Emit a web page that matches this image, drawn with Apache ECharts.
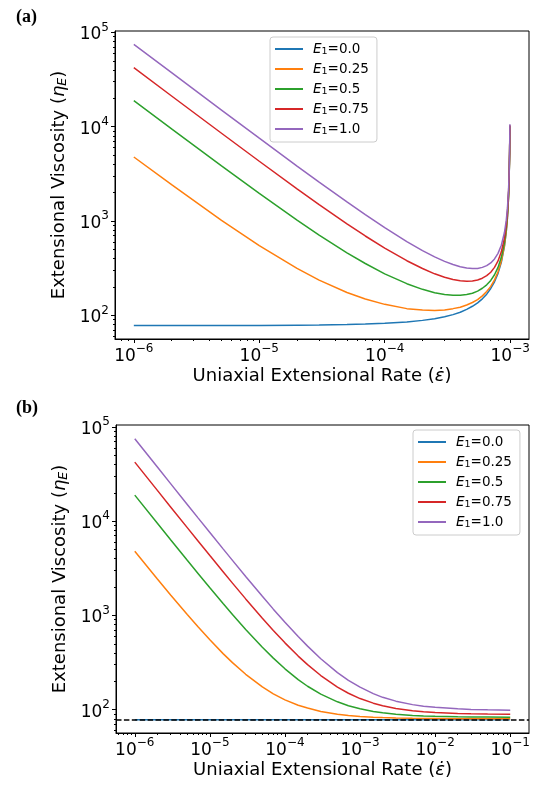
<!DOCTYPE html>
<html>
<head>
<meta charset="utf-8">
<title>Extensional viscosity vs extensional rate</title>
<script src="https://cdn.jsdelivr.net/npm/echarts@6/dist/echarts.min.js"></script>
<style>
  html, body { margin: 0; padding: 0; background: #fff; }
  #chart { width: 543px; height: 790px; }
</style>
</head>
<body>
<div id="chart"></div>
<script>
var names = ['E1=0.0', 'E1=0.25', 'E1=0.5', 'E1=0.75', 'E1=1.0'];
var colors = ['#1f77b4', '#ff7f0e', '#2ca02c', '#d62728', '#9467bd'];

// (a) rates up to the blow-up near 1e-3
var rateA = [1e-6, 2e-6, 5e-6, 1e-5, 2e-5, 3e-5, 5e-5, 7e-5, 1e-4, 1.5e-4, 2e-4, 2.5e-4, 3e-4, 3.5e-4, 4e-4, 4.5e-4,
  5e-4, 5.5e-4, 6e-4, 6.5e-4, 7e-4, 7.5e-4, 8e-4, 8.5e-4, 9e-4, 9.3e-4, 9.5e-4, 9.7e-4, 9.8e-4, 9.9e-4, 9.95e-4];
var etaA00 = [78.0, 78.1, 78.2, 78.4, 78.8, 79.2, 80.1, 81.0, 82.5, 85.4, 88.6, 92.4, 96.9, 102, 108, 116,
  125, 136, 150, 168, 193, 227, 279, 365, 538, 761, 1058, 1751, 2617, 5217, 10000];
var etaA025 = [4779, 2429, 1019, 550, 315, 237, 175, 149, 131, 118, 114, 113, 114, 118, 122, 129,
  137, 147, 161, 179, 203, 238, 290, 377, 552, 776, 1076, 1774, 2645, 5256, 10100];
var etaA05 = [18880, 9483, 3843, 1963, 1024, 711, 461, 355, 276, 217, 189, 174, 167, 164, 164, 167,
  172, 181, 194, 211, 235, 270, 323, 413, 593, 824, 1131, 1843, 2729, 5373, 10250];
var etaA075 = [42290, 21190, 8529, 4309, 2200, 1497, 935, 695, 517, 380, 314, 276, 254, 240, 233, 230,
  232, 237, 248, 264, 287, 323, 378, 472, 661, 902, 1221, 1957, 2867, 5566, 10400];
var etaA10 = [74800, 37450, 15040, 7567, 3833, 2589, 1594, 1169, 851, 606, 487, 418, 374, 346, 328, 318,
  314, 315, 323, 337, 360, 397, 455, 555, 756, 1011, 1347, 2116, 3059, 5835, 10600];

// (b) wider rate range, curves level off
var rateB = [1e-6, 2e-6, 3e-6, 5e-6, 7e-6, 1e-5, 1.5e-5, 2e-5, 3e-5, 5e-5, 7e-5, 1e-4, 1.5e-4, 2e-4,
  3e-4, 5e-4, 7e-4, 1e-3, 1.5e-3, 2e-3, 3e-3, 5e-3, 7e-3, 1e-2, 2e-2, 3e-2, 5e-2, 1e-1];
var etaB00 = [78, 78, 78, 78, 78, 78, 78, 78, 78, 78, 78, 78, 78, 78,
  78, 78, 78, 78, 78, 78, 78, 78, 78, 78, 78, 78, 78, 78];
var etaB025 = [4780, 2430, 1647, 1020, 751, 550, 393, 315, 237, 174, 147, 127, 111.3, 104,
  95.7, 89.4, 86.7, 84.7, 83.1, 82.4, 81.6, 80.9, 80.7, 80.5, 80.2, 80.2, 80.1, 80.0];
var etaB05 = [18880, 9483, 6350, 3843, 2769, 1963, 1336, 1023, 710, 459, 352, 271, 208, 177,
  146, 121, 109.9, 102, 95.5, 92.4, 89.3, 86.8, 85.7, 84.9, 83.9, 83.6, 83.4, 83.2];
var etaB075 = [42290, 21190, 14156, 8529, 6118, 4309, 2902, 2199, 1496, 933, 692, 511, 370, 300,
  230, 173, 149.3, 131, 117.1, 110, 103, 97.4, 95.0, 93.2, 91.1, 90.4, 89.8, 89.4];
var etaB10 = [74800, 37450, 24998, 15040, 10769, 7568, 5078, 3833, 2588, 1592, 1165, 845, 596, 472,
  347, 247, 204.7, 173, 147.8, 135, 123, 113, 108.7, 106, 102, 100.5, 99.5, 98.7];
var newtonLevel = 78;

// tick labels
var ticksXA = [1e-6, 1e-5, 1e-4, 1e-3];
var ticksXB = [1e-6, 1e-5, 1e-4, 1e-3, 1e-2, 1e-1];
var ticksY = [1e2, 1e3, 1e4, 1e5];

var chart = echarts.init(document.getElementById('chart'), null, { renderer: 'canvas' });
var FONT = 'DejaVu Sans';

// minor log ticks 2..9 for each decade
function minorTicks(lo, hi) {
  var out = [];
  for (var e = lo; e < hi; e++) {
    for (var k = 2; k <= 9; k++) {
      out.push(Number((k * Math.pow(10, e)).toPrecision(3)));
    }
  }
  return out;
}

function powLabel(v) {
  var e = Math.round(Math.log10(v));
  var s = e < 0 ? '\u2212' + (-e) : '' + e;
  return '{b|10}{s|' + s + '}';
}

var tickRich = {
  b: { fontFamily: FONT, fontSize: 17, color: '#000', lineHeight: 22, verticalAlign: 'bottom' },
  s: { fontFamily: FONT, fontSize: 12, color: '#000', lineHeight: 22, verticalAlign: 'top' }
};

function pairs(xs, ys) {
  return xs.map(function (x, i) { return [x, ys[i]]; });
}

function xAxes(gridIndex, min, max, ticks, minors) {
  return [{
    type: 'log', gridIndex: gridIndex, position: 'bottom', min: min, max: max,
    name: '{t|Uniaxial Extensional Rate (}{e|\u03b5\u0307}{t|)}',
    nameLocation: 'middle', nameGap: 28,
    nameTextStyle: {
      rich: {
        t: { fontFamily: FONT, fontSize: 18, color: '#000' },
        e: { fontFamily: FONT, fontSize: 18, fontStyle: 'italic', color: '#000' }
      }
    },
    axisLine: { show: true, lineStyle: { color: '#000', width: 1 } },
    axisTick: { show: true, length: 4, customValues: ticks, lineStyle: { color: '#000' } },
    axisLabel: { customValues: ticks, margin: 4, formatter: powLabel, rich: tickRich },
    splitLine: { show: false }
  }, {
    type: 'log', gridIndex: gridIndex, position: 'bottom', min: min, max: max,
    axisLine: { show: false },
    axisTick: { show: true, length: 2, customValues: minors, lineStyle: { color: '#000' } },
    axisLabel: { show: false },
    splitLine: { show: false }
  }];
}

function yAxes(gridIndex, min, max) {
  return [{
    type: 'log', gridIndex: gridIndex, position: 'left', min: min, max: max,
    name: '{t|Extensional Viscosity (}{e|\u03b7}{sub|E}{t|)}',
    nameLocation: 'middle', nameGap: 43, nameRotate: 90,
    nameTextStyle: {
      rich: {
        t: { fontFamily: FONT, fontSize: 18, color: '#000' },
        e: { fontFamily: FONT, fontSize: 18, fontStyle: 'italic', color: '#000' },
        sub: { fontFamily: FONT, fontSize: 12.5, fontStyle: 'italic', color: '#000', verticalAlign: 'bottom', padding: [7, 0, 0, 0] }
      }
    },
    axisLine: { show: true, lineStyle: { color: '#000', width: 1 } },
    axisTick: { show: true, length: 4, customValues: ticksY, lineStyle: { color: '#000' } },
    axisLabel: { customValues: ticksY, margin: 6, formatter: powLabel, rich: tickRich },
    splitLine: { show: false }
  }, {
    type: 'log', gridIndex: gridIndex, position: 'left', min: min, max: max,
    axisLine: { show: false },
    axisTick: { show: true, length: 2, customValues: minorTicks(1, 5), lineStyle: { color: '#000' } },
    axisLabel: { show: false },
    splitLine: { show: false }
  }];
}

function legendFmt(name) {
  return '{e|E}{sub|1}{t|' + name.slice(2) + '}';
}

function legendAt(left, top) {
  return {
    data: names, orient: 'vertical', left: left, top: top,
    icon: 'rect', itemWidth: 28, itemHeight: 2, itemGap: 4,
    padding: [4, 8, 5, 5],
    backgroundColor: 'rgba(255,255,255,0.8)', borderColor: '#cccccc', borderWidth: 1, borderRadius: 3,
    formatter: legendFmt,
    textStyle: {
      rich: {
        e: { fontFamily: FONT, fontSize: 13.5, fontStyle: 'italic', color: '#000', lineHeight: 16, padding: [0, 0, 0, 5] },
        sub: { fontFamily: FONT, fontSize: 9.5, color: '#000', verticalAlign: 'bottom', lineHeight: 10, padding: [6, 0, 0, 0] },
        t: { fontFamily: FONT, fontSize: 13.5, color: '#000', lineHeight: 16 }
      }
    }
  };
}

var seriesA = [etaA00, etaA025, etaA05, etaA075, etaA10];
var seriesB = [etaB00, etaB025, etaB05, etaB075, etaB10];
var series = [];
seriesA.forEach(function (ys, i) {
  series.push({
    name: names[i], type: 'line', xAxisIndex: 0, yAxisIndex: 0,
    data: pairs(rateA, ys), symbol: 'none', showSymbol: false,
    lineStyle: { color: colors[i], width: 1.5 }, itemStyle: { color: colors[i] },
    silent: true, z: 2 + i
  });
});
seriesB.forEach(function (ys, i) {
  var s = {
    name: names[i], type: 'line', xAxisIndex: 2, yAxisIndex: 2,
    data: pairs(rateB, ys), symbol: 'none', showSymbol: false,
    lineStyle: { color: colors[i], width: 1.5 }, itemStyle: { color: colors[i] },
    silent: true, z: 2 + i
  };
  if (i === 0) {
    s.markLine = {
      silent: true, symbol: 'none', label: { show: false },
      lineStyle: { color: '#000', type: [5.5, 2.4], width: 1.5 },
      data: [{ yAxis: newtonLevel }]
    };
  }
  series.push(s);
});

var option = {
  animation: false,
  backgroundColor: '#fff',
  title: [
    { text: '(a)', left: 11, top: 3, textStyle: { fontFamily: 'Liberation Serif', fontWeight: 'bold', fontSize: 18, color: '#000' } },
    { text: '(b)', left: 11, top: 394, textStyle: { fontFamily: 'Liberation Serif', fontWeight: 'bold', fontSize: 18, color: '#000' } }
  ],
  grid: [
    { left: 115, right: 14, top: 31, height: 308, show: true, borderColor: '#000', borderWidth: 1, backgroundColor: 'transparent' },
    { left: 116, right: 14, top: 425, height: 308, show: true, borderColor: '#000', borderWidth: 1, backgroundColor: 'transparent' }
  ],
  xAxis: xAxes(0, Math.pow(10, -6.15), Math.pow(10, -2.85), ticksXA, minorTicks(-7, -3))
    .concat(xAxes(1, Math.pow(10, -6.25), Math.pow(10, -0.75), ticksXB, minorTicks(-7, -1))),
  yAxis: yAxes(0, Math.pow(10, 1.75), Math.pow(10, 5.015))
    .concat(yAxes(1, Math.pow(10, 1.752), Math.pow(10, 5.02))),
  legend: [legendAt(270, 37), legendAt(413, 430)],
  series: series
};

chart.setOption(option);
</script>
</body>
</html>
